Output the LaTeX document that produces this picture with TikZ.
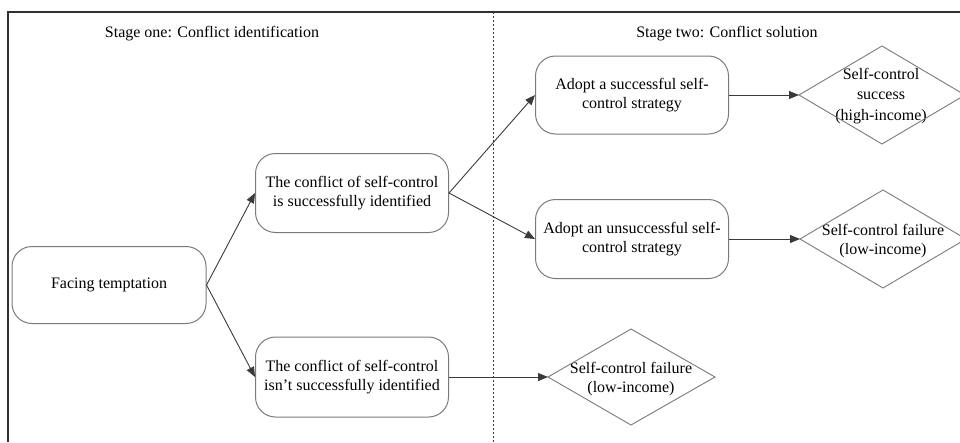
\documentclass[tikz,border=0pt]{standalone}
\usepackage{fontspec}
\setmainfont{Liberation Serif}
\usetikzlibrary{calc,arrows.meta}
\definecolor{boxgray}{HTML}{7A7A7A}
\definecolor{linegray}{HTML}{3A3A3A}
\definecolor{framegray}{HTML}{303030}
\begin{document}
\begin{tikzpicture}[x=1pt,y=-1pt,
  box/.style={draw=boxgray, line width=1pt, rounded corners=20pt, minimum width=193pt, minimum height=78pt, align=center, font=\fontsize{16}{19}\selectfont, inner sep=0pt},
  lbl/.style={align=center, font=\fontsize{16}{19}\selectfont, inner sep=0pt},
  arr/.style={draw=linegray, line width=0.9pt, -{Triangle[length=10pt,width=8pt]}},
  dia/.style={draw=boxgray, line width=0.9pt, line join=miter}]
\useasboundingbox (0,0) rectangle (960,442);
% frame
\coordinate (fc) at (8,12);
\coordinate (fr) at (960,12);
\coordinate (fb) at (8,442);
\draw[framegray, line width=1.6pt] (fr) -- (fc) -- (fb);
% dashed divider
\coordinate (dt) at (493,12);
\coordinate (db) at (493,442);
\draw[linegray, line width=0.8pt, dash pattern=on 2pt off 2pt] (dt) -- (db);
% stage labels
\node[lbl, anchor=base] (s1) at (212,37) {Stage one: Conflict identification};
\node[lbl, anchor=base] (s2) at (727,37) {Stage two: Conflict solution};
% boxes
\node[box, minimum width=194pt, minimum height=77pt] (ft) at (109,285) {Facing temptation};
\node[box, minimum height=79pt] (ci) at (352,193) {The conflict of self-control\\is successfully identified};
\node[box, minimum height=80pt] (cn) at (352,377) {The conflict of self-control\\isn’t successfully identified};
\node[box, minimum height=78pt] (as) at (632,95) {Adopt a successful self-\\control strategy};
\node[box, minimum height=79pt] (au) at (632,239) {Adopt an unsuccessful self-\\control strategy};
% diamonds
\node[lbl, font=\fontsize{16}{20.5}\selectfont] (d1) at (881,96) {Self-control\\success\\(high-income)};
\coordinate (d1w) at (799,95);
\draw[dia] (d1w) -- (882,46) -- (965,95) -- (882,144) -- cycle;
\node[lbl] (d2) at (883,241) {Self-control failure\\(low-income)};
\coordinate (d2w) at (800,239);
\draw[dia] (d2w) -- (883,190) -- (966,239) -- (883,288) -- cycle;
\node[lbl] (d3) at (631,379) {Self-control failure\\(low-income)};
\coordinate (d3w) at (548,377);
\draw[dia] (d3w) -- (631,329) -- (715,377) -- (631,425) -- cycle;
% connectors
\draw[arr] (ft.east) -- (ci.west);
\draw[arr] (ft.east) -- (cn.west);
\draw[arr] (ci.east) -- (as.west);
\draw[arr] (ci.east) -- (au.west);
\draw[arr] (cn.east) -- (d3w);
\draw[arr] (as.east) -- (d1w);
\draw[arr] (au.east) -- (d2w);
\end{tikzpicture}
\end{document}
